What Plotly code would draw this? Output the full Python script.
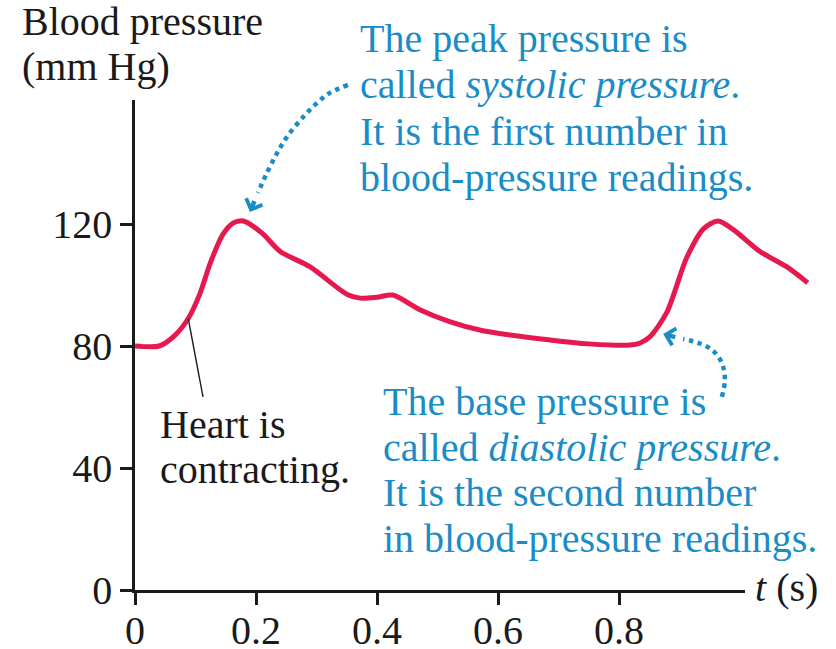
import plotly.graph_objects as go

# ---- data -------------------------------------------------------------
# one pressure pulse plus the start of the next (time in s, pressure in mm Hg)
time_s = [0.0, 0.04, 0.066, 0.088, 0.107, 0.125, 0.145, 0.162, 0.179, 0.21,
          0.24, 0.289, 0.35, 0.372, 0.40, 0.426, 0.47, 0.52, 0.575, 0.686,
          0.75, 0.818, 0.835, 0.851, 0.879, 0.912, 0.94, 0.964, 0.99, 1.033,
          1.077, 1.112]
pressure = [80, 80, 83.5, 89, 97, 107.5, 116.5, 120.3, 121, 117,
            111, 106, 97, 95.7, 96, 96.7, 92, 88, 85, 82,
            80.7, 80.3, 81, 83, 91, 109, 118.5, 121, 118, 111,
            106, 100.7]

x_ticks = [0, 0.2, 0.4, 0.6, 0.8]
x_tick_text = ["0", "0.2", "0.4", "0.6", "0.8"]
y_ticks = [0, 40, 80, 120]
y_tick_text = ["0", "40", "80", "120"]

# dotted callout paths (t, p), ending at the arrow tip
sys_t = [0.352, 0.322, 0.301, 0.278, 0.251, 0.235, 0.218, 0.203, 0.190]
sys_p = [165.6, 163.0, 159.7, 155.1, 148.5, 143.3, 136.7, 130.2, 123.9]
dia_t = [0.970, 0.975, 0.970, 0.954, 0.931, 0.906, 0.873]
dia_p = [63.3, 68.9, 74.4, 78.7, 81.0, 82.3, 83.9]

# pointer for the contraction label (t, p)
heart_t = [0.088, 0.1124]
heart_p = [89.0, 63.3]

systolic_lines = ["The peak pressure is",
                  "called <i>systolic pressure</i>.",
                  "It is the first number in",
                  "blood-pressure readings."]
diastolic_lines = ["The base pressure is",
                   "called <i>diastolic pressure</i>.",
                   "It is the second number",
                   "in blood-pressure readings."]
heart_lines = ["Heart is", "contracting."]
y_title_lines = ["Blood pressure", "(mm Hg)"]

# ---- geometry ---------------------------------------------------------
W, H = 836, 649
X0, Y0 = 135, 590          # pixel position of the origin
PX_PER_S = 605.0
PX_PER_MMHG = 3.05
FONT = "Liberation Serif"
BLUE = "#1a8cc6"
RED = "#e6194f"
INK = "#1a1a1a"


def fx(px):
    return px / W


def fy(py):
    return 1 - py / H


fig = go.Figure()

# empty trace so the visible axes own a subplot
fig.add_trace(go.Scatter(x=[], y=[], xaxis="x", yaxis="y", showlegend=False))

# pressure curve on a wider, invisible pair of axes with the same scale
fig.add_trace(go.Scatter(
    x=time_s, y=pressure, mode="lines", xaxis="x2", yaxis="y2",
    line=dict(color=RED, width=5, shape="spline", smoothing=0.8),
    hoverinfo="skip", showlegend=False))

for tt, pp in ((sys_t, sys_p), (dia_t, dia_p)):
    fig.add_trace(go.Scatter(
        x=tt[:-1], y=pp[:-1], mode="lines", xaxis="x2", yaxis="y2",
        line=dict(color=BLUE, width=4.5, dash="dot", shape="spline"),
        hoverinfo="skip", showlegend=False))

fig.add_trace(go.Scatter(
    x=heart_t, y=heart_p, mode="lines", xaxis="x2", yaxis="y2",
    line=dict(color=INK, width=1.4), hoverinfo="skip", showlegend=False))

axis_style = dict(showgrid=False, zeroline=False, showline=True,
                  linecolor=INK, linewidth=2.5, ticks="outside", ticklen=12,
                  tickwidth=2.5, tickcolor=INK, automargin=False,
                  tickfont=dict(family=FONT, size=40, color=INK),
                  fixedrange=True)

fig.update_layout(
    width=W, height=H, autosize=False,
    margin=dict(l=0, r=0, t=0, b=0, autoexpand=False),
    paper_bgcolor="white", plot_bgcolor="rgba(0,0,0,0)",
    showlegend=False,
    xaxis=dict(domain=[fx(X0), fx(745)], range=[0, (745 - X0) / PX_PER_S],
               tickvals=x_ticks, ticktext=x_tick_text, anchor="y",
               ticklabelstandoff=-9, **axis_style),
    yaxis=dict(domain=[fy(Y0), fy(100)], range=[0, (Y0 - 100) / PX_PER_MMHG],
               tickvals=y_ticks, ticktext=y_tick_text, anchor="x",
               ticklabelstandoff=0, **axis_style),
    xaxis2=dict(domain=[fx(X0), 1], range=[0, (W - X0) / PX_PER_S],
                visible=False, anchor="y2", fixedrange=True, automargin=False),
    yaxis2=dict(domain=[fy(Y0), 1], range=[0, Y0 / PX_PER_MMHG],
                visible=False, anchor="x2", fixedrange=True, automargin=False),
)


def tail_offset(tt, pp, length=13):
    """pixel offset from the arrow tip back along the last path segment"""
    dx = (tt[-2] - tt[-1]) * PX_PER_S
    dy = -(pp[-2] - pp[-1]) * PX_PER_MMHG
    n = (dx * dx + dy * dy) ** 0.5
    return dx / n * length, dy / n * length


annotations = []
for tt, pp in ((sys_t, sys_p), (dia_t, dia_p)):
    ax, ay = tail_offset(tt, pp)
    annotations.append(dict(
        x=tt[-1], y=pp[-1], xref="x2", yref="y2", ax=ax, ay=ay,
        showarrow=True, arrowhead=4, arrowsize=0.75, arrowwidth=4.5,
        arrowcolor=BLUE, standoff=0, text=" ", borderpad=0,
        font=dict(size=1)))


def text_block(lines, left_px, first_base_px, step_px, color):
    for i, line in enumerate(lines):
        annotations.append(dict(
            x=fx(left_px), y=fy(first_base_px + i * step_px - 13.5),
            xref="paper", yref="paper", xanchor="left", yanchor="middle",
            text=line, showarrow=False, align="left",
            font=dict(family=FONT, size=40, color=color)))


text_block(systolic_lines, 358, 52, 46.4, BLUE)
text_block(diastolic_lines, 381, 415, 45.7, BLUE)
text_block(heart_lines, 158, 438, 45.5, INK)
text_block(y_title_lines, 20, 35, 45.5, INK)
text_block(["<i>t</i> (s)"], 753, 601, 0, INK)

fig.update_layout(annotations=annotations)

fig.write_html("out.html")
